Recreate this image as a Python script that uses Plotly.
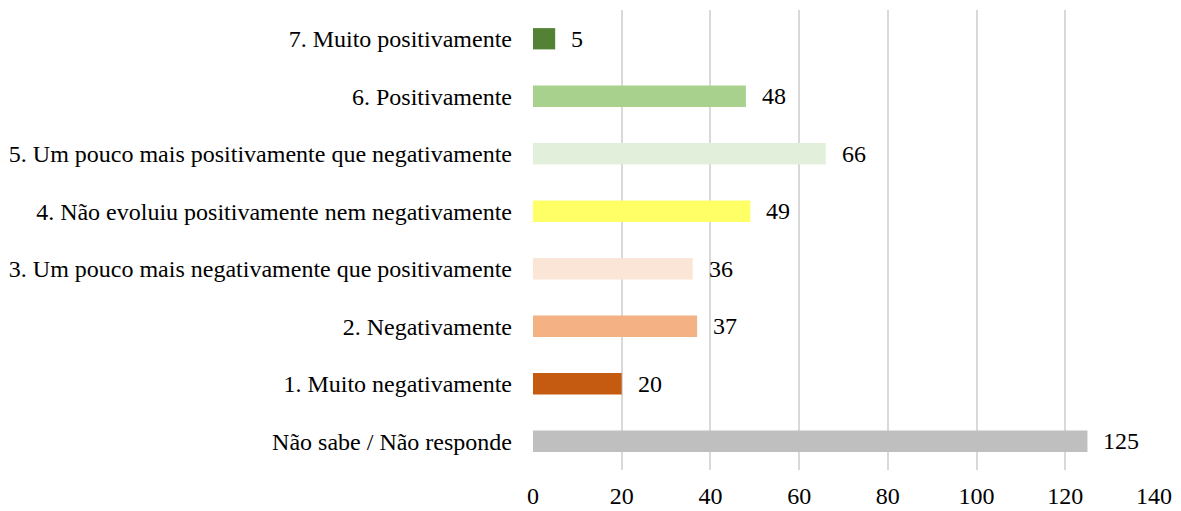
import plotly.graph_objects as go

categories = [
    "Não sabe / Não responde",
    "1. Muito negativamente",
    "2. Negativamente",
    "3. Um pouco mais negativamente que positivamente",
    "4. Não evoluiu positivamente nem negativamente",
    "5. Um pouco mais positivamente que negativamente",
    "6. Positivamente",
    "7. Muito positivamente",
]
values = [125, 20, 37, 36, 49, 66, 48, 5]
colors = ["#BFBFBF", "#C55A11", "#F4B183", "#FBE5D6", "#FFFF66", "#E2EFDA", "#A9D18E", "#548235"]
x_ticks = [0, 20, 40, 60, 80, 100, 120, 140]

font = "Liberation Serif"
fs = 24

fig = go.Figure(go.Bar(
    x=values, y=categories, orientation="h",
    marker=dict(color=colors, line=dict(width=0)),
    width=0.37,
))

for v, c in zip(values, categories):
    fig.add_annotation(x=v, y=c, text=str(v), showarrow=False,
                       xanchor="left", xshift=14, font=dict(family=font, size=fs, color="#000"))

fig.update_layout(
    width=1173, height=503,
    margin=dict(l=525, r=27, t=2, b=41, pad=0),
    paper_bgcolor="white", plot_bgcolor="white",
    font=dict(family=font, size=fs, color="#000"),
    showlegend=False,
)
fig.update_xaxes(range=[0, 140], tickvals=x_ticks, showgrid=True, gridcolor="#D9D9D9", gridwidth=2,
                 zeroline=False, showline=False, ticks="", tickfont=dict(size=fs), ticklabelstandoff=9)
fig.update_yaxes(categoryorder="array", categoryarray=categories, range=[-0.5, 7.5],
                 showgrid=False, zeroline=False, showline=False, ticks="", ticklabelstandoff=20,
                 tickfont=dict(size=fs))

fig.write_html("out.html")
